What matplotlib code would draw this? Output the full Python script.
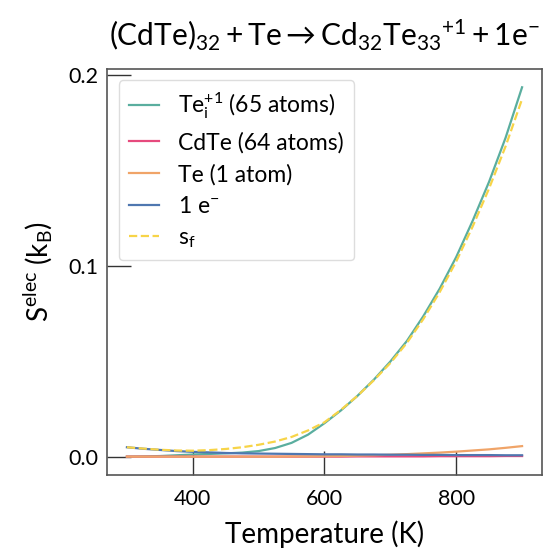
import numpy as np
import matplotlib
matplotlib.use("Agg")
import matplotlib.pyplot as plt

plt.rcParams['font.family'] = ['Lato', 'DejaVu Sans']
plt.rcParams['mathtext.fontset'] = 'custom'
plt.rcParams['mathtext.rm'] = 'Lato'
plt.rcParams['mathtext.it'] = 'Lato'
plt.rcParams['mathtext.bf'] = 'Lato:bold'

# temperature grid (K)
T = [300, 325, 350, 375, 400, 425, 450, 475, 500, 525, 550, 575, 600,
     625, 650, 675, 700, 725, 750, 775, 800, 825, 850, 875, 900]

# electronic entropy contributions (k_B)
S_tei = [0.0000, 0.0001, 0.0003, 0.0007, 0.0011, 0.0014, 0.0017, 0.0021, 0.0029, 0.0045, 0.0072, 0.0115, 0.0175,
         0.0242, 0.0318, 0.0403, 0.0498, 0.0605, 0.0735, 0.0880, 0.1045, 0.1235, 0.1440, 0.1670, 0.1934]
S_cdte = [0.0000, 0.0000, 0.0000, 0.0000, 0.0000, 0.0000, 0.0000, 0.0000, 0.0000, 0.0000, 0.0000, 0.0000, 0.0000,
          0.0000, 0.0001, 0.0001, 0.0001, 0.0001, 0.0001, 0.0002, 0.0002, 0.0002, 0.0002, 0.0003, 0.0003]
S_te = [0.0000, 0.0000, 0.0000, 0.0000, 0.0000, 0.0000, 0.0000, 0.0000, 0.0000, 0.0000, 0.0001, 0.0001, 0.0002,
        0.0003, 0.0005, 0.0007, 0.0010, 0.0013, 0.0017, 0.0021, 0.0026, 0.0032, 0.0038, 0.0046, 0.0055]
S_e = [0.0049, 0.0041, 0.0035, 0.0029, 0.0025, 0.0022, 0.0019, 0.0017, 0.0016, 0.0015, 0.0014, 0.0013, 0.0012,
       0.0012, 0.0011, 0.0011, 0.0010, 0.0010, 0.0009, 0.0009, 0.0008, 0.0008, 0.0008, 0.0007, 0.0007]
S_f = [0.0049, 0.0042, 0.0036, 0.0032, 0.0031, 0.0034, 0.0040, 0.0049, 0.0062, 0.0079, 0.0103, 0.0137, 0.0180,
       0.0245, 0.0318, 0.0400, 0.0490, 0.0595, 0.0720, 0.0862, 0.1022, 0.1205, 0.1405, 0.1625, 0.1872]

labels = [r"Te$_\mathrm{i}^{+1}$ (65 atoms)", "CdTe (64 atoms)", "Te (1 atom)", r"1 e$^{-}$", r"s$_\mathrm{f}$"]
colors = ["#5aae9f", "#e64a7d", "#f0a468", "#4f77b0", "#f7d448"]

fig = plt.figure(figsize=(5.44, 5.55), dpi=100)
ax = fig.add_axes([0.197, 0.144, 0.799, 0.732])

ax.plot(T, S_tei, color=colors[0], lw=1.6, label=labels[0])
ax.plot(T, S_cdte, color=colors[1], lw=1.6, label=labels[1])
ax.plot(T, S_te, color=colors[2], lw=1.6, label=labels[2])
ax.plot(T, S_e, color=colors[3], lw=1.6, label=labels[3])
ax.plot(T, S_f, color=colors[4], lw=1.6, ls="--", label=labels[4])

ax.set_xticks([400, 600, 800])
ax.set_yticks([0.0, 0.1, 0.2])
ax.set_yticklabels(["0.0", "0.1", "0.2"])
ax.tick_params(direction="in", length=17, width=1.0, color="#333333", labelsize=15.5, pad=6)
ax.tick_params(axis="x", pad=10)
for sp in ax.spines.values():
    sp.set_color("#555555")
    sp.set_linewidth(1.2)

ax.set_xlabel("Temperature (K)", fontsize=20, labelpad=8)
ax.set_ylabel(r"S$^\mathrm{elec}$ (k$_\mathrm{B}$)", fontsize=20, labelpad=10)
ax.set_title(r"$\mathrm{(CdTe)_{32} + Te \rightarrow Cd_{32}Te_{33}{}^{+1} + 1e^{-}}$", fontsize=21.5, pad=16)

leg = ax.legend(loc="upper left", fontsize=16.5, handlelength=1.3, handletextpad=0.85,
                borderpad=0.45, labelspacing=0.46, fancybox=True, framealpha=1, edgecolor="#dddddd")

fig.savefig("out.png", dpi=100)
